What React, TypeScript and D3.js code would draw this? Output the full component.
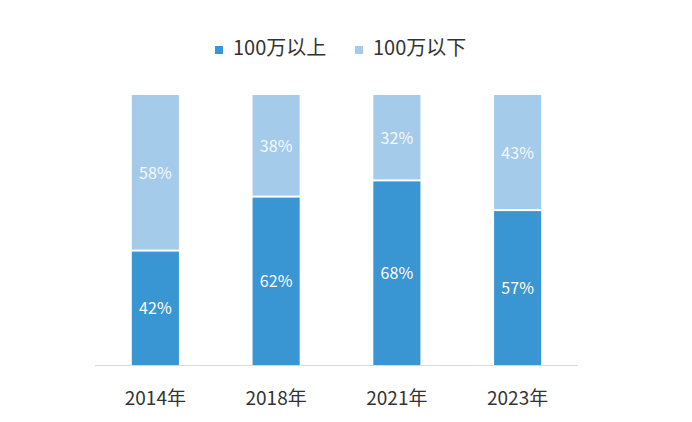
import { scaleBand, scaleLinear } from "d3";

const years = ["2014年", "2018年", "2021年", "2023年"];
const above = [42, 62, 68, 57];
const below = [58, 38, 32, 43];
const seriesNames = ["100万以上", "100万以下"];
const colors = ["#3a95d3", "#a5cbeb"];

const W = 692;
const H = 422;
const font = "'Noto Sans CJK SC', 'Noto Sans', sans-serif";

function App() {
    const x = scaleBand().domain(years).range([95, 578]).paddingInner(0.61).paddingOuter(0.305);
    const y = scaleLinear().domain([0, 100]).range([365, 95]);

    return (
        <svg
            width={W}
            height={H}
            style={{ position: "absolute", left: 0, top: 0, background: "#fff" }}
            fontFamily={font}
        >
            {/* legend */}
            <g>
                <rect x={215} y={46} width={8} height={8} fill={colors[0]} />
                <text x={233} y={55} fontSize={20} fill="#333">
                    {seriesNames[0]}
                </text>
                <rect x={355} y={46} width={8} height={8} fill={colors[1]} />
                <text x={373} y={55} fontSize={20} fill="#333">
                    {seriesNames[1]}
                </text>
            </g>

            {years.map((yr, i) => {
                const bx = x(yr) as number;
                const bw = x.bandwidth();
                const topDark = y(above[i]);
                const topLight = y(above[i] + below[i]);
                return (
                    <g key={yr}>
                        <rect x={bx} y={topDark} width={bw} height={y(0) - topDark} fill={colors[0]} />
                        <rect x={bx} y={topLight} width={bw} height={topDark - topLight - 2} fill={colors[1]} />
                        <text
                            x={bx + bw / 2}
                            y={(topDark + y(0)) / 2 + 6}
                            textAnchor="middle"
                            fontSize={16}
                            fill="#fff"
                        >
                            {above[i]}%
                        </text>
                        <text
                            x={bx + bw / 2}
                            y={(topLight + topDark) / 2 + 6}
                            textAnchor="middle"
                            fontSize={16}
                            fill="#fff"
                            fillOpacity={0.9}
                        >
                            {below[i]}%
                        </text>
                        <text
                            x={bx + bw / 2}
                            y={405}
                            textAnchor="middle"
                            fontSize={19}
                            fill="#333"
                        >
                            {yr}
                        </text>
                    </g>
                );
            })}

            <line x1={95} x2={578} y1={365.5} y2={365.5} stroke="#d9d9d9" strokeWidth={1} />
        </svg>
    );
}

export default App;
